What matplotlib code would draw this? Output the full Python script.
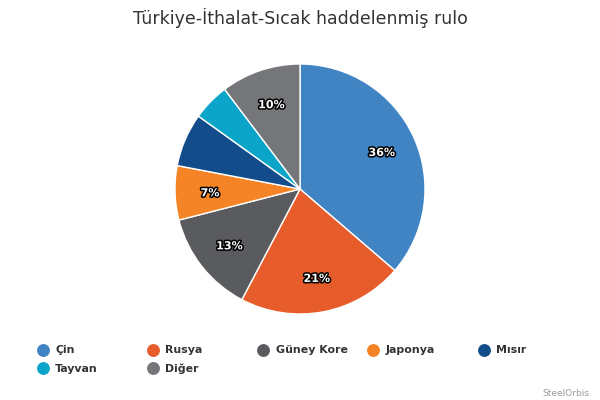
import matplotlib.pyplot as plt
import matplotlib.patheffects as pe

title = 'Türkiye-İthalat-Sıcak haddelenmiş rulo'
countries = ['Çin', 'Rusya', 'Güney Kore', 'Japonya', 'Mısır', 'Tayvan', 'Diğer']
shares = [36.3, 21.4, 13.3, 7.0, 6.9, 4.8, 10.3]
colors = ['#4184c4', '#e65d2b', '#5a5b5e', '#f58427', '#124c8a', '#0ba5c9', '#757679']

plt.rcParams['font.family'] = ['DejaVu Sans']

fig = plt.figure(figsize=(6, 4), dpi=100)
ax = fig.add_axes([0, 0, 1, 1])


def pct_label(p):
    # small slices get no label (the original hides them)
    return '%d%%' % round(p) if p >= 6.95 else ''


# y axis is flipped below, so -90 is the top and counterclock runs clockwise on screen
wedges, texts, autotexts = ax.pie(
    shares, colors=colors, startangle=-90, counterclock=True,
    center=(300, 189), radius=125, autopct=pct_label, pctdistance=0.72,
    wedgeprops=dict(edgecolor='white', linewidth=1),
    textprops=dict(color='white', fontsize=8, fontweight='bold'),
    frame=True)
ax.set_xlim(0, 600)
ax.set_ylim(400, 0)
ax.axis('off')
for t in autotexts:
    x, y = t.get_position()
    t.set_position((x, y + 1.5))
    t.set_path_effects([pe.Stroke(linewidth=2.2, foreground='black'), pe.Normal()])

ax.text(300, 18, title, ha='center', va='center', fontsize=12.5, color='#333333')

# legend, 5 per row
for i, (name, c) in enumerate(zip(countries, colors)):
    row, col = divmod(i, 5)
    x = 42.7 + col * 110.2
    y = 349.5 + row * 18.7
    ax.scatter([x], [y], s=68, color=c, zorder=3)
    ax.text(x + 12.5, y + 0.5, name, ha='left', va='center', fontsize=7.9,
            fontweight='bold', color='#333333')

ax.text(589, 393, 'SteelOrbis', ha='right', va='center', fontsize=6.5, color='#999999')

fig.savefig('out.png', dpi=100)
